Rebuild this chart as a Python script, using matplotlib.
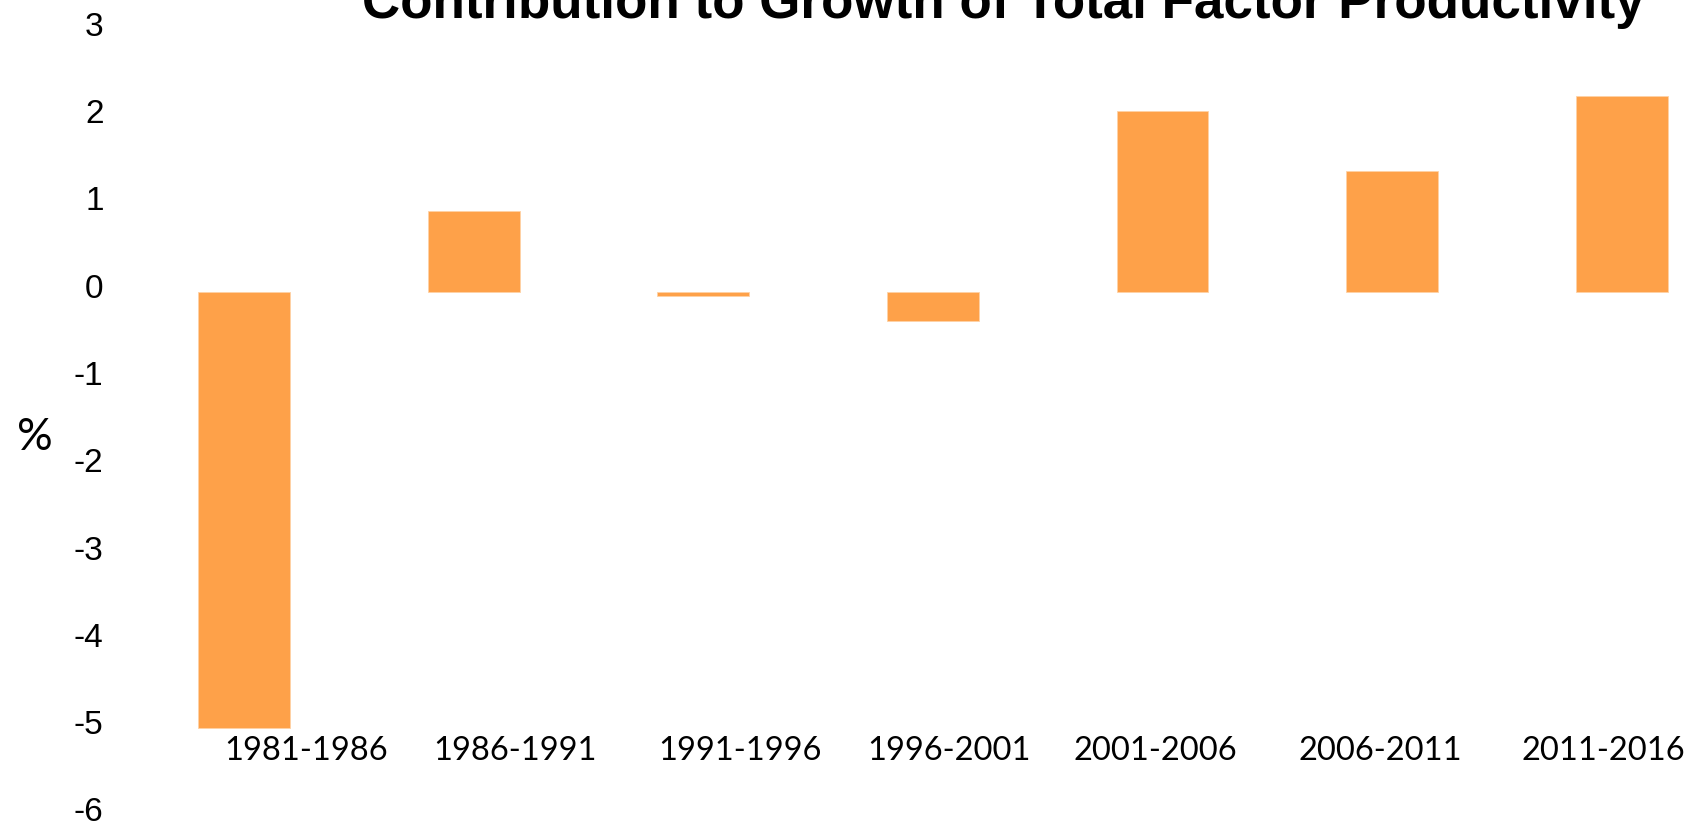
import matplotlib
matplotlib.use('Agg')
import matplotlib.pyplot as plt
from matplotlib.transforms import ScaledTranslation

periods = ['1981-1986', '1986-1991', '1991-1996', '1996-2001',
           '2001-2006', '2006-2011', '2011-2016']
tfp_growth = [-5.0, 0.92, -0.05, -0.34, 2.07, 1.38, 2.24]
y_ticks = [3, 2, 1, 0, -1, -2, -3, -4, -5, -6]

W, H, DPI = 1690, 829, 100
fig = plt.figure(figsize=(W / DPI, H / DPI), dpi=DPI)

# axes box in pixels: x from 129 to 1679, y from 31 to 816 (top-down)
left, right = 129.3, 1679.1
top, bottom = 30.8, 816.5
ax = fig.add_axes([left / W, 1 - bottom / H, (right - left) / W, (bottom - top) / H])

x = list(range(len(periods)))
ax.bar(x, tfp_growth, width=0.4, color='#FEA149', edgecolor='#FFD2A6', linewidth=0.6)

ax.set_xlim(-0.5, 6.25)
ax.set_ylim(-6, 3)
for s in ax.spines.values():
    s.set_visible(False)

# y axis labels, nudged up a little
ax.set_yticks(y_ticks)
ax.set_yticklabels([str(v) for v in y_ticks], fontsize=24, family='Liberation Sans')
ax.tick_params(axis='y', length=0, pad=18.5)
nudge = ScaledTranslation(0, 7 / DPI, fig.dpi_scale_trans)
for t in ax.yaxis.get_major_ticks():
    t.label1.set_transform(t.label1.get_transform() + nudge)

# category labels sit inside the plot area, a bit left of the bars
label_pos = [0.27, 1.18, 2.16, 3.07, 3.97, 4.95, 5.92]
ax.set_xticks(label_pos)
ax.set_xticklabels(periods, fontsize=23.5, family='Lato')
ax.tick_params(axis='x', length=0, pad=0)
for t in ax.xaxis.get_major_ticks():
    t.label1.set_y(0.0833)
    t.label1.set_va('center')

fig.text(1003 / W, 1 - 18 / H, 'Contribution to Growth of Total Factor Productivity',
         ha='center', va='baseline', fontsize=38.2, fontweight='bold',
         family='Liberation Sans')
fig.text(35 / W, 1 - 437 / H, '%', ha='center', va='center', fontsize=32, family='Lato')

fig.savefig('out.png', dpi=DPI)
